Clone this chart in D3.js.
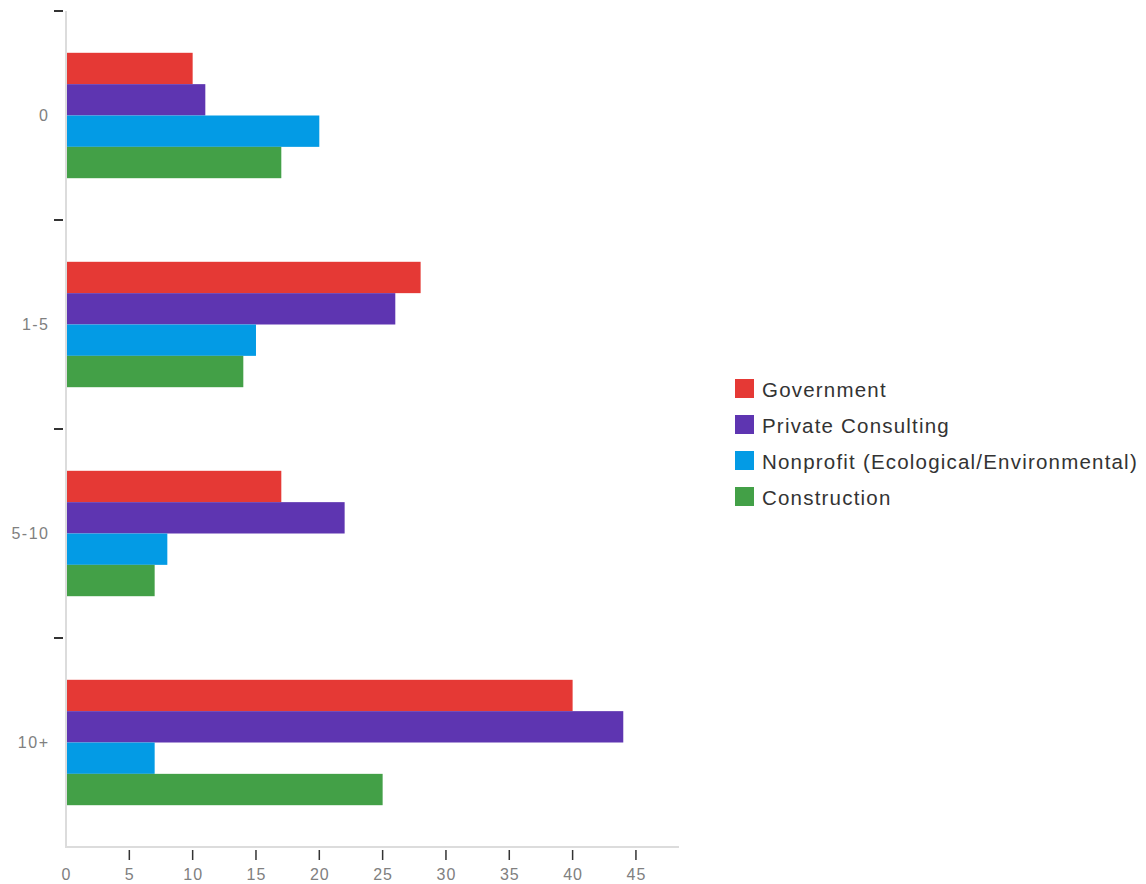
<!DOCTYPE html>
<html>
<head>
<meta charset="utf-8">
<script src="https://cdn.jsdelivr.net/npm/d3@7"></script>
<style>
  html, body { margin: 0; padding: 0; background: #fff; }
  svg { display: block; }
  text { font-family: "Liberation Sans", "Arial", sans-serif; }
</style>
</head>
<body>
<svg id="chart" width="1146" height="884"></svg>
<script>
// Years of experience groups and the sectors respondents work in
const categories = ["0", "1-5", "5-10", "10+"];
const seriesNames = ["Government", "Private Consulting", "Nonprofit (Ecological/Environmental)", "Construction"];
const seriesColors = ["#E53935", "#5E35B1", "#039BE5", "#43A047"];

const government = [10, 28, 17, 40];
const privateConsulting = [11, 26, 22, 44];
const nonprofit = [20, 15, 8, 7];
const construction = [17, 14, 7, 25];

const xTicks = [0, 5, 10, 15, 20, 25, 30, 35, 40, 45];

const seriesValues = [government, privateConsulting, nonprofit, construction];

const svg = d3.select("#chart");

const plot = { left: 66, right: 679, top: 11, bottom: 847 };
const xMax = d3.max(seriesValues.flat()) * 1.1;

const x = d3.scaleLinear().domain([0, xMax]).range([plot.left, plot.right]);
const y = d3.scaleBand().domain(categories).range([plot.top, plot.bottom]).padding(0);
const bw = y.bandwidth();
const ySeries = d3.scaleBand().domain(seriesNames).range([bw * 0.2, bw * 0.8]).padding(0);

// Axis lines
svg.append("line")
  .attr("x1", plot.left).attr("x2", plot.left).attr("y1", plot.top).attr("y2", plot.bottom)
  .attr("stroke", "#dcdcdc").attr("stroke-width", 2);
svg.append("line")
  .attr("x1", plot.left - 1).attr("x2", plot.right).attr("y1", plot.bottom).attr("y2", plot.bottom)
  .attr("stroke", "#dcdcdc").attr("stroke-width", 2);

// Bars
const groups = svg.append("g").selectAll("g")
  .data(categories)
  .join("g")
  .attr("transform", d => `translate(0,${y(d)})`);

groups.selectAll("rect")
  .data((c, i) => seriesNames.map((s, k) => ({ s, k, v: seriesValues[k][i] })))
  .join("rect")
  .attr("x", x(0) + 1)
  .attr("y", d => ySeries(d.s))
  .attr("width", d => x(d.v) - x(0) - 1)
  .attr("height", ySeries.bandwidth())
  .attr("fill", d => seriesColors[d.k]);

// Category boundary ticks and labels
svg.append("g").selectAll("line")
  .data(categories)
  .join("line")
  .attr("x1", plot.left - 12).attr("x2", plot.left - 3)
  .attr("y1", d => y(d)).attr("y2", d => y(d))
  .attr("stroke", "#333").attr("stroke-width", 2);

svg.append("g").selectAll("text")
  .data(categories)
  .join("text")
  .attr("x", plot.left - 16.5)
  .attr("y", d => y(d) + bw / 2)
  .attr("text-anchor", "end")
  .attr("dominant-baseline", "central")
  .attr("fill", "#808080")
  .attr("font-size", 16)
  .attr("letter-spacing", 1.5)
  .text(d => d);

// Value axis ticks and labels
const xAxis = svg.append("g");
xAxis.selectAll("line")
  .data(xTicks.filter(t => t > 0))
  .join("line")
  .attr("x1", d => x(d)).attr("x2", d => x(d))
  .attr("y1", plot.bottom + 3).attr("y2", plot.bottom + 13)
  .attr("stroke", "#333").attr("stroke-width", 1.5);
xAxis.selectAll("text")
  .data(xTicks)
  .join("text")
  .attr("x", d => x(d) + 0.5)
  .attr("y", plot.bottom + 27)
  .attr("text-anchor", "middle")
  .attr("dominant-baseline", "central")
  .attr("fill", "#808080")
  .attr("font-size", 16)
  .attr("letter-spacing", 1)
  .text(d => d);

// Legend
const legend = svg.append("g").attr("transform", "translate(735,379)");
const items = legend.selectAll("g")
  .data(seriesNames)
  .join("g")
  .attr("transform", (d, i) => `translate(0,${i * 36})`);
items.append("rect")
  .attr("width", 19).attr("height", 19)
  .attr("fill", (d, i) => seriesColors[i]);
items.append("text")
  .attr("x", 27).attr("y", 10)
  .attr("dominant-baseline", "central")
  .attr("fill", "#333")
  .attr("font-size", 20.5)
  .attr("letter-spacing", 1.2)
  .text(d => d);
</script>
</body>
</html>
